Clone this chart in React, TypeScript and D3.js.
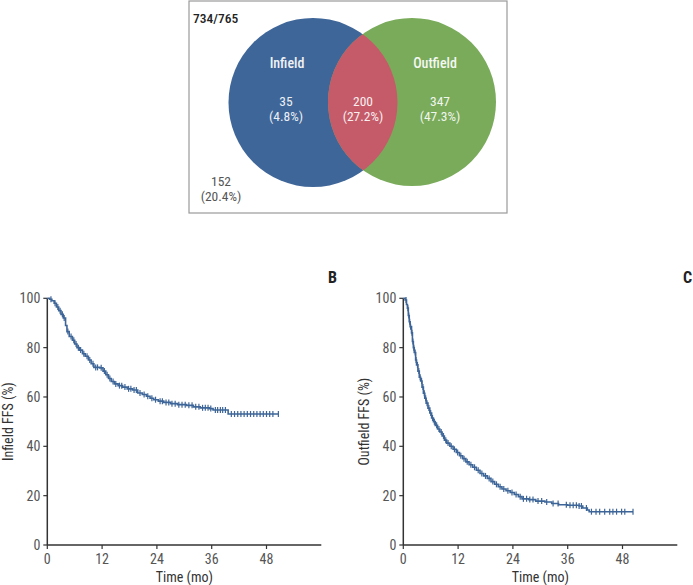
import React from 'react';
import * as d3 from 'd3';

// Venn counts
const vennSets = ['Infield', 'Outfield'];
const vennCounts = ['35', '200', '347'];
const vennPercents = ['(4.8%)', '(27.2%)', '(47.3%)'];
const vennTotal = '734/765';
const vennNone = ['152', '(20.4%)'];

// Kaplan-Meier steps: [time (mo), survival %]
const infieldSteps: [number, number][] = [
  [0, 100], [0.5, 99.6], [1.0, 99], [1.5, 98], [2.0, 96.5], [2.5, 95], [3.0, 93.5], [3.5, 92],
  [4.0, 89], [4.3, 86.5], [4.8, 84.5], [5.5, 83], [6.0, 81.5], [6.5, 80], [7.0, 79], [7.7, 77.5],
  [8.3, 76.5], [9.0, 75], [9.6, 73.5], [10.2, 72], [11.5, 71.8], [12.2, 70.5], [12.8, 69],
  [13.4, 67.5], [14.0, 66.3], [14.7, 65.3], [15.5, 64.6], [16.5, 64], [17.5, 63.3], [18.7, 62.8],
  [19.8, 61.6], [20.8, 61], [21.7, 60.3], [22.5, 59.5], [23.3, 58.9], [24.3, 58.3], [25.5, 57.8],
  [27, 57.3], [28.5, 56.9], [30.5, 56.6], [32, 56], [33.5, 55.6], [35.5, 55.3], [36.3, 54.7],
  [39.6, 53.1], [50.6, 53.1],
];
const infieldCensored = [
  0.8, 1.7, 2.3, 2.8, 3.3, 3.7, 4.5, 5.2, 5.8, 6.3, 6.8, 7.3, 8.0, 8.7, 9.3, 10.0, 10.6, 11.0,
  11.8, 12.5, 13.1, 13.7, 14.4, 15.0, 15.8, 16.3, 17.0, 17.8, 18.3, 19.0, 19.5, 20.3, 21.2, 22.0,
  22.9, 23.7, 24.7, 25.2, 26.0, 26.6, 27.3, 28.0, 28.8, 29.5, 30.2, 31.0, 31.7, 32.5, 33.2, 34.0,
  34.6, 35.2, 35.8, 36.8, 37.3, 37.9, 38.4, 39.0, 40.3, 41.0, 41.7, 42.4, 43.1, 43.8, 44.5, 45.2,
  45.9, 46.6, 47.3, 48.0, 48.7, 49.4, 50.6,
];

const outfieldSteps: [number, number][] = [
  [0, 100], [0.4, 99.3], [0.7, 97.5], [0.9, 96], [1.1, 93], [1.3, 90.5], [1.5, 88.5], [1.8, 86],
  [2.0, 82.5], [2.2, 80], [2.4, 78], [2.7, 75], [2.9, 73], [3.2, 70.5], [3.5, 68], [3.8, 66.5],
  [4.1, 64], [4.4, 61.5], [4.7, 59.5], [5.0, 57.5], [5.4, 55.5], [5.8, 53.5], [6.2, 51.5],
  [6.6, 50], [7.0, 48.5], [7.5, 47], [8.0, 45.8], [8.5, 44.2], [9.0, 42.5], [9.5, 41.3],
  [10.2, 40], [10.9, 38.8], [11.6, 37.5], [12.3, 36.2], [13.0, 35], [13.7, 33.7], [14.4, 32.5],
  [15.2, 31.5], [16.0, 30.3], [16.8, 29], [17.6, 28], [18.4, 27], [19.2, 25.7], [20.0, 24.6],
  [20.8, 23.6], [21.6, 22.7], [22.5, 22], [23.4, 21.3], [24.3, 20.5], [25.2, 19.6], [26.0, 18.7],
  [27.5, 18.4], [29.0, 17.8], [31.0, 17.4], [32.5, 16.8], [34.0, 16.3], [36.0, 16.1], [38.5, 15.8],
  [39.3, 15.0], [40.3, 14.2], [40.7, 13.5], [50.3, 13.5],
];
const outfieldCensored = [
  0.6, 1.0, 1.2, 1.4, 1.6, 1.9, 2.1, 2.3, 2.6, 2.8, 3.1, 3.4, 3.7, 4.0, 4.3, 4.6, 4.9, 5.2, 5.6,
  6.0, 6.4, 6.8, 7.3, 7.8, 8.3, 8.8, 9.3, 9.8, 10.5, 11.2, 11.9, 12.6, 13.3, 14.0, 14.8, 15.6,
  16.4, 17.2, 18.0, 18.8, 19.6, 20.4, 21.2, 22.0, 22.9, 23.8, 24.7, 25.6, 26.3, 27.0, 27.7, 28.4,
  29.5, 30.3, 31.4, 32.8, 33.9, 35.7, 36.5, 37.2, 37.9, 38.5, 39.0, 40.1, 41.2, 42.2, 43.0, 44.1,
  45.2, 45.9, 46.7, 47.8, 48.5, 50.3,
];

const xTicks = [0, 12, 24, 36, 48];
const yTicks = [0, 20, 40, 60, 80, 100];

const FONT = "'Liberation Sans Narrow', 'Roboto Condensed', 'Arial Narrow', Roboto, sans-serif";
const LINE = '#3d6598';
const TICK_TEXT = '#555';
const AXIS = '#333';

const KMPanel = ({ left, steps, censored, yLabel, letter, letterX }: any) => {
  const top = 298.3;
  const bottom = 545;
  const x = d3.scaleLinear().domain([0, 60]).range([left, left + 274]);
  const y = d3.scaleLinear().domain([0, 100]).range([bottom, top]);
  const line = d3.line<[number, number]>()
    .x(d => x(d[0]))
    .y(d => y(d[1]))
    .curve(d3.curveStepAfter);
  const times = steps.map((d: [number, number]) => d[0]);
  const survAt = (t: number) => steps[Math.max(0, d3.bisectRight(times, t) - 1)][1];

  return (
    <g fontFamily={FONT}>
      <text x={letterX} y={283} fontSize={16} fontWeight="bold" fill="#222">{letter}</text>
      {/* axes */}
      <line x1={left} x2={left} y1={top} y2={bottom} stroke={AXIS} strokeWidth={1.5} />
      <line x1={left} x2={x(60)} y1={bottom} y2={bottom} stroke={AXIS} strokeWidth={1.5} />
      {yTicks.map(t => (
        <g key={'y' + t}>
          <line x1={left - 4} x2={left} y1={y(t)} y2={y(t)} stroke={AXIS} strokeWidth={1.2} />
          <text x={left - 7} y={y(t)} dy="0.35em" textAnchor="end" fontSize={14} fill={TICK_TEXT}>{t}</text>
        </g>
      ))}
      {xTicks.map(t => (
        <g key={'x' + t}>
          <line x1={x(t)} x2={x(t)} y1={bottom} y2={bottom + 4} stroke={AXIS} strokeWidth={1.2} />
          <text x={x(t)} y={bottom + 14} dy="0.35em" textAnchor="middle" fontSize={14} fill={TICK_TEXT}>{t}</text>
        </g>
      ))}
      <text x={x(30)} y={577} dy="0.35em" textAnchor="middle" fontSize={14} fill="#333">Time (mo)</text>
      <text transform={`translate(${left - 39},${(top + bottom) / 2}) rotate(-90)`} textAnchor="middle"
        dy="0.35em" fontSize={14} fill="#333">{yLabel}</text>
      {/* curve */}
      <path d={line(steps) || ''} fill="none" stroke={LINE} strokeWidth={1.6} />
      {censored.map((t: number, i: number) => (
        <line key={i} x1={x(t)} x2={x(t)} y1={y(survAt(t)) - 3} y2={y(survAt(t)) + 3}
          stroke={LINE} strokeWidth={1.2} />
      ))}
    </g>
  );
};

const App = () => {
  const blue = { cx: 313, cy: 102.5, r: 84.5 };
  const green = { cx: 412, cy: 102, r: 84 };
  return (
    <div style={{ position: 'absolute', left: 0, top: 0 }}>
      <svg width={693} height={585} style={{ display: 'block', background: '#fff' }}>
        <defs>
          <clipPath id="blueClip">
            <circle cx={blue.cx} cy={blue.cy} r={blue.r} />
          </clipPath>
        </defs>
        {/* Venn diagram box */}
        <rect x={189} y={1} width={318} height={212} fill="#fff" stroke="#9a9a9a" strokeWidth={1.2} />
        <circle cx={blue.cx} cy={blue.cy} r={blue.r} fill="#3f6698" />
        <circle cx={green.cx} cy={green.cy} r={green.r} fill="#79ab5a" />
        <circle cx={green.cx} cy={green.cy} r={green.r} fill="#c55b69" clipPath="url(#blueClip)" />
        <g fontFamily={FONT} textAnchor="middle">
          <text x={193} y={18} dy="0.35em" textAnchor="start" fontSize={13.5} fontWeight={500} fill="#222">{vennTotal}</text>
          <text x={287} y={63} dy="0.35em" fontSize={14} fontWeight={500} fill="#fff" opacity={0.92}>{vennSets[0]}</text>
          <text x={435} y={63} dy="0.35em" fontSize={14} fontWeight={500} fill="#fff" opacity={0.92}>{vennSets[1]}</text>
          {[286, 363, 440].map((cx, i) => (
            <g key={i}>
              <text x={cx} y={101} dy="0.35em" fontSize={13.5} fill="#fff" opacity={0.9}>{vennCounts[i]}</text>
              <text x={cx} y={116} dy="0.35em" fontSize={13.5} fill="#fff" opacity={0.9}>{vennPercents[i]}</text>
            </g>
          ))}
          <text x={221} y={181} dy="0.35em" fontSize={13.5} fill="#555">{vennNone[0]}</text>
          <text x={221} y={196} dy="0.35em" fontSize={13.5} fill="#555">{vennNone[1]}</text>
        </g>
        <KMPanel left={47.3} steps={infieldSteps} censored={infieldCensored} yLabel="Infield FFS (%)" letter="B" letterX={328} />
        <KMPanel left={403.3} steps={outfieldSteps} censored={outfieldCensored} yLabel="Outfield FFS (%)" letter="C" letterX={683} />
      </svg>
    </div>
  );
};

export default App;
